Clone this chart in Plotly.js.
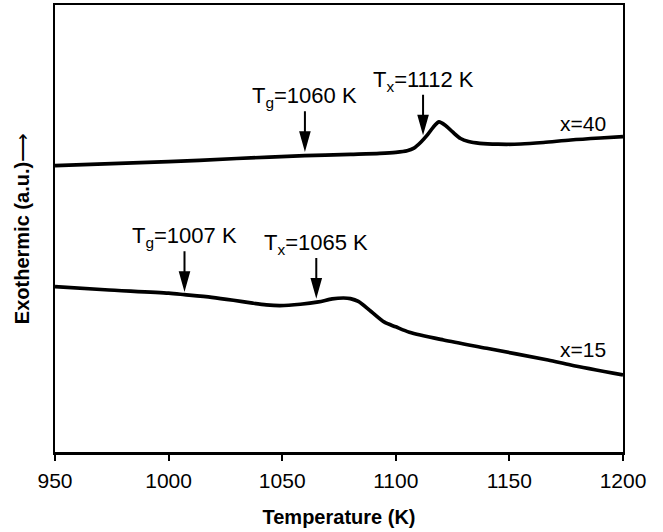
<!DOCTYPE html>
<html>
<head>
<meta charset="utf-8">
<script src="https://cdn.plot.ly/plotly-3.0.1.min.js"></script>
<style>html,body{margin:0;padding:0;background:#fff;}#chart{width:663px;height:532px;}</style>
</head>
<body>
<div id="chart"></div>
<script>
// x = 40 DSC trace (temperature K, exothermic signal a.u.)
const tempX40 = [950, 1000, 1030, 1060, 1080, 1093, 1100, 1105, 1108, 1111, 1114, 1117, 1119, 1122, 1125, 1128.5, 1132, 1137, 1145, 1155, 1165, 1177, 1190, 1200];
const signalX40 = [6.405, 6.494, 6.566, 6.629, 6.660, 6.682, 6.705, 6.740, 6.800, 6.930, 7.100, 7.300, 7.385, 7.300, 7.160, 7.013, 6.946, 6.906, 6.886, 6.890, 6.924, 6.980, 7.025, 7.054];

// x = 15 DSC trace
const tempX15 = [950, 972, 1000, 1007, 1019, 1028.5, 1037, 1043, 1049, 1058, 1066, 1072, 1077, 1080, 1083.5, 1089, 1095, 1100, 1106, 1121, 1140, 1167, 1177, 1200];
const signalX15 = [3.698, 3.630, 3.553, 3.520, 3.460, 3.395, 3.330, 3.292, 3.276, 3.305, 3.358, 3.425, 3.445, 3.432, 3.368, 3.150, 2.905, 2.800, 2.680, 2.506, 2.320, 2.058, 1.946, 1.723];

// Marked transition temperatures
const markerLabels = ['T<sub>g</sub>=1060 K', 'T<sub>x</sub>=1112 K', 'T<sub>g</sub>=1007 K', 'T<sub>x</sub>=1065 K'];
const markerTemps = [1060, 1112, 1007, 1065];
const markerTipY = [6.794, 7.166, 3.662, 3.512];

// Series labels
const seriesNames = ['x=40', 'x=15'];
const seriesLabelT = [1182.4, 1182.4];
const seriesLabelY = [7.36, 2.30];

const xTicks = [950, 1000, 1050, 1100, 1150, 1200];

const FONT = 'Liberation Sans, Arial, sans-serif';

const traces = [
  {x: tempX40, y: signalX40, type: 'scatter', mode: 'lines', name: seriesNames[0],
   line: {color: '#000', width: 3.7, shape: 'spline', smoothing: 0.8}, hoverinfo: 'skip'},
  {x: tempX15, y: signalX15, type: 'scatter', mode: 'lines', name: seriesNames[1],
   line: {color: '#000', width: 3.7, shape: 'spline', smoothing: 0.8}, hoverinfo: 'skip'}
];

const ARROW_LEN = 37, HEAD_LEN = 16, HEAD_HALF = 4.5;
const shapes = markerTemps.map((t, i) => ({
  type: 'path', xref: 'x', yref: 'y',
  xsizemode: 'pixel', ysizemode: 'pixel', xanchor: t, yanchor: markerTipY[i],
  path: 'M0,0L' + (-HEAD_HALF) + ',' + HEAD_LEN + 'L' + HEAD_HALF + ',' + HEAD_LEN + 'Z M0,' + HEAD_LEN + 'L0,' + ARROW_LEN,
  fillcolor: '#000', line: {color: '#000', width: 2}
}));

const annotations = markerTemps.map((t, i) => ({
  x: t, y: markerTipY[i], xref: 'x', yref: 'y', text: markerLabels[i],
  showarrow: false, xanchor: 'center', yanchor: 'bottom', yshift: ARROW_LEN - 2,
  font: {family: FONT, size: 22, color: '#000'}
})).concat(seriesNames.map((s, i) => ({
  x: seriesLabelT[i], y: seriesLabelY[i], xref: 'x', yref: 'y', text: s,
  showarrow: false, xanchor: 'center', yanchor: 'middle',
  font: {family: FONT, size: 21, color: '#000'}
})));

const layout = {
  width: 663, height: 532,
  margin: {l: 55, r: 40, t: 5, b: 80},
  paper_bgcolor: '#fff', plot_bgcolor: '#fff',
  showlegend: false,
  font: {family: FONT, color: '#000'},
  xaxis: {
    range: [950, 1200], tickvals: xTicks, ticktext: xTicks.map(String),
    ticks: 'outside', ticklen: 6, tickwidth: 2, tickcolor: '#000',
    ticklabelstandoff: 2,
    showline: true, linecolor: '#000', linewidth: 2.5, mirror: true,
    showgrid: false, zeroline: false,
    tickfont: {family: FONT, size: 21, color: '#000'},
    title: {text: 'Temperature (K)', font: {family: FONT, size: 20, color: '#000', weight: 'bold'}}
  },
  yaxis: {
    range: [0, 10], showticklabels: false, ticks: '',
    showline: true, linecolor: '#000', linewidth: 2, mirror: true,
    showgrid: false, zeroline: false,
    title: {text: '<b>Exothermic (a.u.)</b>\u27F6', font: {family: FONT, size: 20, color: '#000'}, standoff: 18}
  },
  shapes: shapes,
  annotations: annotations
};

Plotly.newPlot('chart', traces, layout, {staticPlot: true, displayModeBar: false});
</script>
</body>
</html>
